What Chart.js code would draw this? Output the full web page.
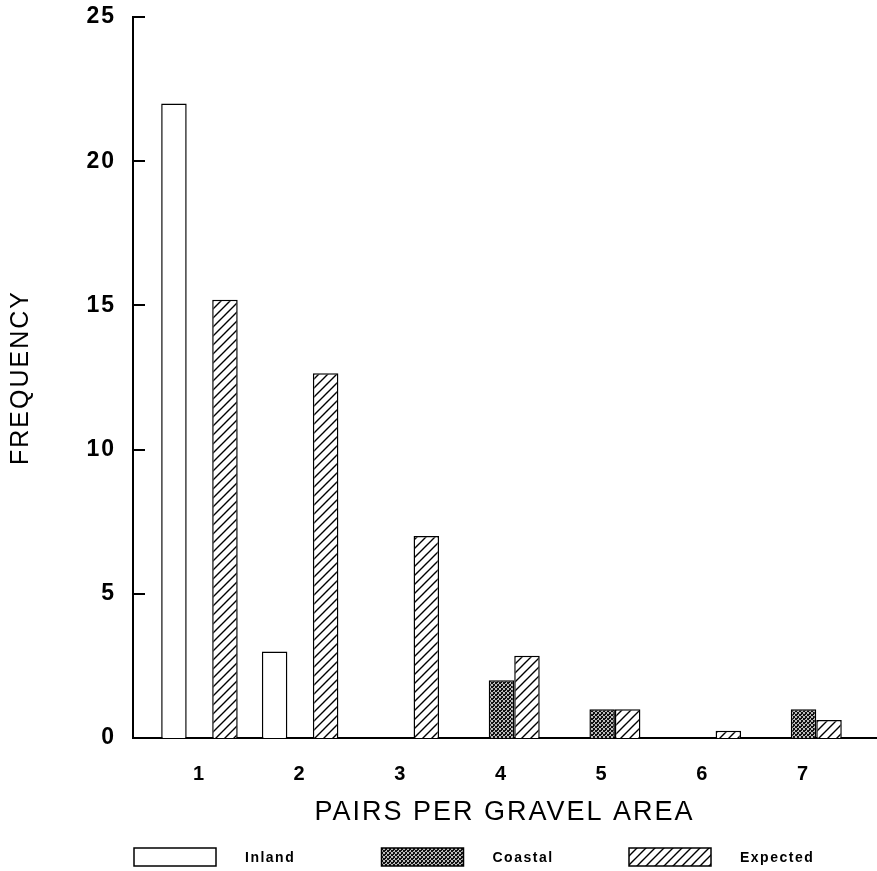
<!DOCTYPE html>
<html>
<head>
<meta charset="utf-8">
<script src="https://cdn.jsdelivr.net/npm/chart.js@4.4.0/dist/chart.umd.min.js"></script>
<style>
  html, body { margin: 0; padding: 0; background: #fff; }
  #wrap { width: 877px; height: 871px; }
</style>
</head>
<body>
<div id="wrap"><canvas id="chart"></canvas></div>
<script>
const pairCounts = [1, 2, 3, 4, 5, 6, 7];
const inland = [22, 3, 0, 0, 0, 0, 0];
const coastal = [0, 0, 0, 2, 1, 0, 1];
const expected = [15.2, 12.65, 7.0, 2.85, 1.0, 0.25, 0.62];
const yTicks = [0, 5, 10, 15, 20, 25];

const FONT = '"Liberation Sans", Arial, Helvetica, sans-serif';

// dark stipple for coastal
function stipple() {
    const c = document.createElement('canvas');
    c.width = 4; c.height = 4;
    const g = c.getContext('2d');
    g.fillStyle = '#111';
    g.fillRect(0, 0, 4, 4);
    g.fillStyle = '#bbb';
    for (let x = 0; x < 4; x++) {
        for (let y = 0; y < 4; y++) {
            if ((x + y) % 4 === 0 || (x + 3 * y) % 8 === 3) g.fillRect(x, y, 1, 1);
        }
    }
    return g.createPattern(c, 'repeat');
}

// "/" hatching for expected
function hatch() {
    const s = 9;
    const c = document.createElement('canvas');
    c.width = s; c.height = s;
    const g = c.getContext('2d');
    g.fillStyle = '#fff';
    g.fillRect(0, 0, s, s);
    g.strokeStyle = '#000';
    g.lineWidth = 1.4;
    g.beginPath();
    g.moveTo(-1, s + 1); g.lineTo(s + 1, -1);
    g.moveTo(-2, 2); g.lineTo(2, -2);
    g.moveTo(s - 2, s + 2); g.lineTo(s + 2, s - 2);
    g.stroke();
    return g.createPattern(c, 'repeat');
}

const points = vals => pairCounts.map((p, i) => ({ x: p, y: vals[i] }));

// tick marks pointing into the plot, like the original
const inwardTicks = {
    id: 'inwardTicks',
    afterDraw(chart) {
        const { ctx, chartArea, scales } = chart;
        ctx.save();
        ctx.strokeStyle = '#000';
        ctx.lineWidth = 2;
        scales.y.ticks.forEach(t => {
            const py = Math.round(scales.y.getPixelForValue(t.value));
            ctx.beginPath();
            ctx.moveTo(chartArea.left, py);
            ctx.lineTo(chartArea.left + 12, py);
            ctx.stroke();
        });
        ctx.restore();
    }
};

// legend row at the bottom with long boxes
const boxLegend = {
    id: 'boxLegend',
    afterDraw(chart) {
        const { ctx, chartArea } = chart;
        const y = 848;
        ctx.save();
        chart.data.datasets.forEach((ds, i) => {
            const x = chartArea.left + 1 + i * 247.5;
            ctx.fillStyle = ds.backgroundColor;
            ctx.fillRect(x, y, 82, 18);
            ctx.strokeStyle = '#000';
            ctx.lineWidth = 1.5;
            ctx.strokeRect(x, y, 82, 18);
            ctx.fillStyle = '#000';
            ctx.font = 'bold 14px ' + FONT;
            ctx.letterSpacing = '1.5px';
            ctx.textBaseline = 'middle';
            ctx.fillText(ds.label, x + 111, y + 10);
        });
        ctx.restore();
    }
};

const spacing = {
    id: 'spacing',
    beforeDraw(chart) { chart.ctx.letterSpacing = '2px'; }
};

const ctx = document.getElementById('chart').getContext('2d');

new Chart(ctx, {
    type: 'bar',
    data: {
        datasets: [
            { label: 'Inland', data: points(inland), backgroundColor: '#fff', borderColor: '#000', borderWidth: 1.5 },
            { label: 'Coastal', data: points(coastal), backgroundColor: stipple(), borderColor: '#000', borderWidth: 1.5 },
            { label: 'Expected', data: points(expected), backgroundColor: hatch(), borderColor: '#000', borderWidth: 1.5 }
        ]
    },
    options: {
        responsive: true,
        maintainAspectRatio: false,
        animation: false,
        layout: { padding: { top: 17, right: 1, bottom: 40, left: 0 } },
        datasets: { bar: { categoryPercentage: 0.76, barPercentage: 1 } },
        plugins: { legend: { display: false }, tooltip: { enabled: false } },
        scales: {
            x: {
                type: 'linear',
                offset: false,
                bounds: 'data',
                min: 0.34,
                max: 7.72,
                grid: { display: false, drawTicks: false, offset: false },
                border: { display: true, color: '#000', width: 2 },
                ticks: { stepSize: 1, color: '#000', padding: 24, font: { family: FONT, size: 20, weight: 'bold' } },
                afterBuildTicks: s => { s.ticks = pairCounts.map(v => ({ value: v })); },
                afterFit: s => { s.height = 93; },
                title: {
                    display: true,
                    text: 'PAIRS PER GRAVEL AREA',
                    color: '#000',
                    font: { family: FONT, size: 27 },
                    padding: { top: 0, bottom: 2 }
                }
            },
            y: {
                min: 0,
                max: 25,
                grid: { display: false, drawTicks: false },
                border: { display: true, color: '#000', width: 2 },
                ticks: { stepSize: 5, color: '#000', padding: 17, font: { family: FONT, size: 23, weight: 'bold' } },
                afterBuildTicks: s => { s.ticks = yTicks.map(v => ({ value: v })); },
                afterFit: s => { s.width = 133; s.paddingTop = 0; s.paddingBottom = 0; },
                title: {
                    display: true,
                    text: 'FREQUENCY',
                    color: '#000',
                    font: { family: FONT, size: 25 },
                    padding: { top: 6, bottom: 0 }
                }
            }
        }
    },
    plugins: [spacing, inwardTicks, boxLegend]
});
</script>
</body>
</html>
